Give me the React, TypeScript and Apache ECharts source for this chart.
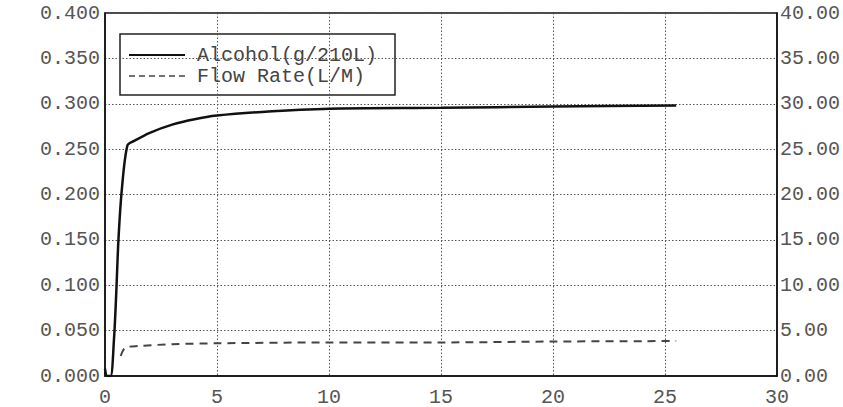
import React, { useEffect, useRef } from "react";
import * as echarts from "echarts";

const alcoholX = [0, 0.1, 0.25, 0.4, 0.5, 0.6, 0.75, 1.0, 1.3, 2, 3, 4, 5, 7, 10, 15, 20, 25.5];
const alcoholY = [0.008, 0, 0, 0.04, 0.09, 0.15, 0.205, 0.254, 0.259, 0.268, 0.277, 0.283, 0.287, 0.291, 0.2945, 0.2955, 0.297, 0.298];
const flowX = [0.7, 0.9, 1.5, 3, 5, 10, 15, 20, 25.5];
const flowY = [2.2, 3.1, 3.3, 3.5, 3.6, 3.7, 3.7, 3.8, 3.85];
const xTicks = [0, 5, 10, 15, 20, 25, 30];
const seriesNames = ["Alcohol(g/210L)", "Flow Rate(L/M)"];

const FONT = "Liberation Mono";
const ALC_COLOR = "#111";
const FLOW_COLOR = "#444";
const FLOW_DASH = [8, 6];

export default function App() {
  const ref = useRef<HTMLDivElement>(null);
  useEffect(() => {
    if (!ref.current) return;
    const chart = echarts.init(ref.current, null, { renderer: "svg" });
    const gridLine = { show: true, lineStyle: { color: "#555", width: 1, type: [1.5, 2] } };
    const label = { color: "#555", fontFamily: FONT, fontSize: 20 };
    const legendText = { fontFamily: FONT, fontSize: 20, fill: "#444", verticalAlign: "middle", align: "left" };
    chart.setOption({
      animation: false,
      backgroundColor: "#fff",
      grid: {
        left: 105,
        right: 62,
        top: 13,
        bottom: 27,
        show: true,
        borderColor: "#111",
        borderWidth: 1.5,
        containLabel: false,
      },
      graphic: [
        {
          type: "group",
          z: 100,
          children: [
            {
              type: "rect",
              shape: { x: 120, y: 34, width: 275, height: 61 },
              style: { fill: "#fff", stroke: "#222", lineWidth: 1.5 },
            },
            {
              type: "line",
              shape: { x1: 129, y1: 55, x2: 185, y2: 55 },
              style: { stroke: ALC_COLOR, lineWidth: 2.2 },
            },
            {
              type: "line",
              shape: { x1: 129, y1: 76, x2: 185, y2: 76 },
              style: { stroke: FLOW_COLOR, lineWidth: 1.5, lineDash: [6, 4] },
            },
            { type: "text", x: 197, y: 55, style: { ...legendText, text: seriesNames[0] } },
            { type: "text", x: 197, y: 76, style: { ...legendText, text: seriesNames[1] } },
          ],
        },
      ],
      xAxis: {
        type: "value",
        min: xTicks[0],
        max: xTicks[xTicks.length - 1],
        interval: 5,
        axisLine: { show: true, lineStyle: { color: "#111", width: 1.5 } },
        axisTick: { show: false },
        axisLabel: { ...label, margin: 11 },
        splitLine: gridLine,
      },
      yAxis: [
        {
          type: "value",
          min: 0,
          max: 0.4,
          interval: 0.05,
          axisLine: { show: true, lineStyle: { color: "#111", width: 1.5 } },
          axisTick: { show: false },
          axisLabel: { ...label, margin: 5, formatter: (v: number) => v.toFixed(3) },
          splitLine: gridLine,
        },
        {
          type: "value",
          min: 0,
          max: 40,
          interval: 5,
          position: "right",
          axisLine: { show: true, lineStyle: { color: "#111", width: 1.5 } },
          axisTick: { show: false },
          axisLabel: { ...label, margin: 3, formatter: (v: number) => v.toFixed(2) },
          splitLine: { show: false },
        },
      ],
      series: [
        {
          name: seriesNames[0],
          type: "line",
          yAxisIndex: 0,
          showSymbol: false,
          symbol: "none",
          smooth: 0.3,
          data: alcoholX.map((x, i) => [x, alcoholY[i]]),
          lineStyle: { color: ALC_COLOR, width: 2.5 },
          itemStyle: { color: ALC_COLOR },
        },
        {
          name: seriesNames[1],
          type: "line",
          yAxisIndex: 1,
          showSymbol: false,
          symbol: "none",
          smooth: 0.3,
          data: flowX.map((x, i) => [x, flowY[i]]),
          lineStyle: { color: FLOW_COLOR, width: 2, type: FLOW_DASH },
          itemStyle: { color: FLOW_COLOR },
        },
      ],
    });
    return () => chart.dispose();
  }, []);
  return (
    <div
      ref={ref}
      style={{ position: "fixed", left: 0, top: 0, width: 843, height: 407 }}
    />
  );
}
